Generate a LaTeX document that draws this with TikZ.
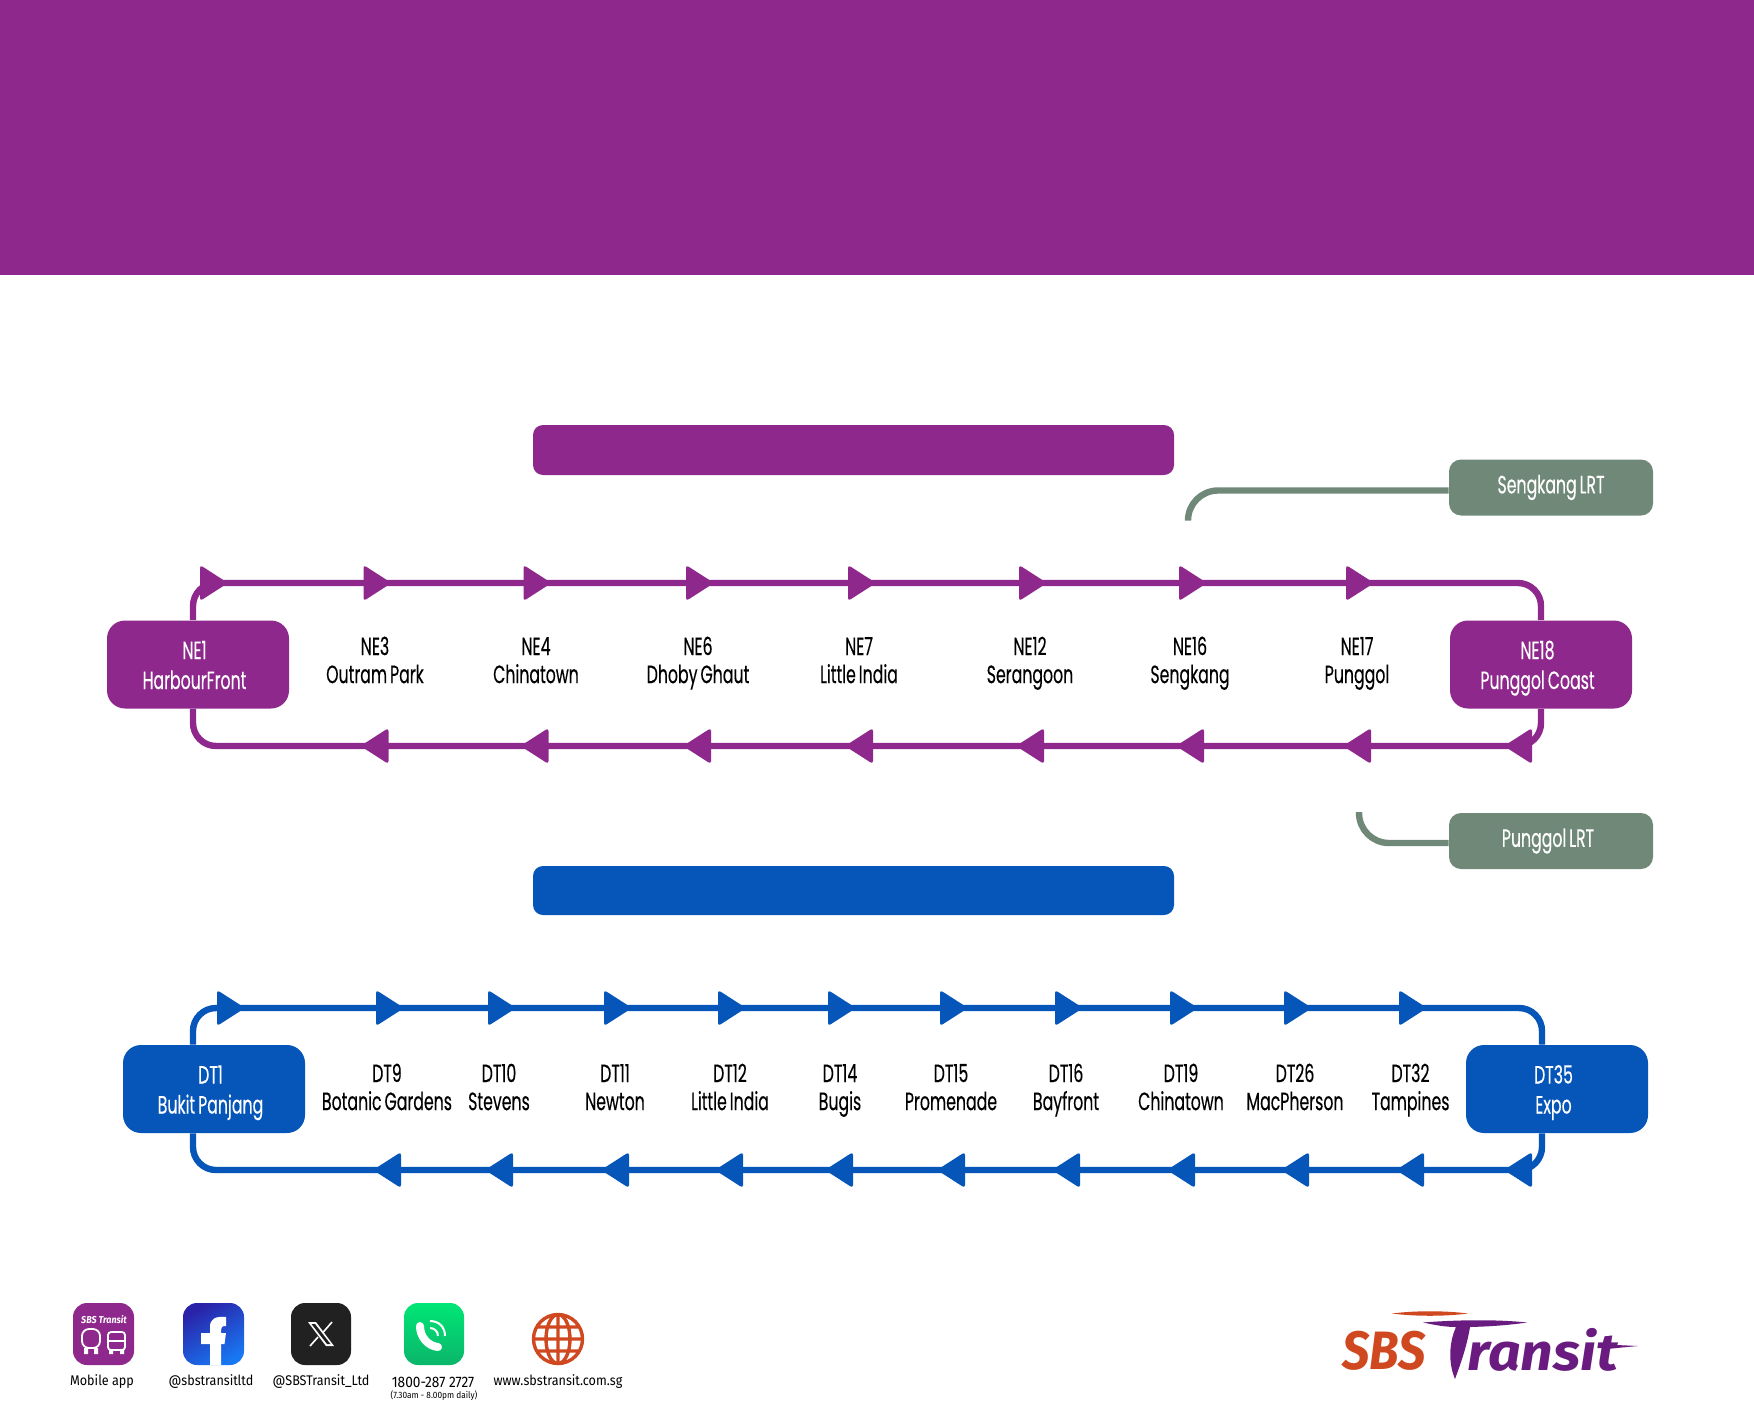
\documentclass[tikz,border=0pt]{standalone}
\usepackage{fontspec}
\usetikzlibrary{calc}
\newfontfamily\stopfont[FakeStretch=0.63,FakeBold=0.25,WordSpace=0.7]{Poppins}
\newfontfamily\footfont[FakeStretch=0.9]{Fira Sans}
\newfontfamily\logofont[FakeStretch=0.9]{Fira Sans}
\newfontfamily\logowide[FakeStretch=1.1]{Fira Sans}
\definecolor{nePurple}{RGB}{143,40,140}
\definecolor{dtBlue}{RGB}{5,86,184}
\definecolor{lrtGrey}{RGB}{111,136,119}
\definecolor{logoOrange}{RGB}{208,72,32}
\definecolor{logoPurple}{RGB}{106,27,127}
\definecolor{fbLight}{RGB}{24,119,242}
\definecolor{fbDark}{RGB}{42,34,168}
\definecolor{callLight}{RGB}{0,230,118}
\definecolor{callDark}{RGB}{11,181,106}
\newcommand\boxlines[2]{\hspace*{-3.5pt}#1\rule{0pt}{14pt}\\\hspace*{-3.5pt}#2\strut}
\def\neTop{583}
\def\neBot{746}
\def\dtTop{1008}
\def\dtBot{1170}
\def\tipW{28}
\def\tipH{18}

\begin{document}
\begin{tikzpicture}[
    x=0.5pt,y=-0.5pt,
    stopbox/.style={
      rounded corners=9pt,minimum width=91pt,minimum height=44pt,
      text width=91pt,inner sep=0pt,align=flush center,text=white,
      font=\stopfont\fontsize{12.5}{15}\selectfont
    },
    stoplabel/.style={
      inner sep=0pt,align=center,
      font=\stopfont\fontsize{12.5}{14}\selectfont
    },
    lrtbox/.style={
      fill=lrtGrey,rounded corners=6pt,minimum width=102pt,minimum height=28pt,
      inner sep=0pt,text=white,font=\stopfont\fontsize{12.5}{15}\selectfont
    },
    looproute/.style={line width=3.2pt,rounded corners=11.5pt},
    lrtroute/.style={lrtGrey,line width=3.2pt,rounded corners=15pt},
    arrowmark/.style={rounded corners=1.5pt},
    footlabel/.style={inner sep=0pt,font=\footfont\fontsize{7}{8}\selectfont},
    iconbox/.style={rounded corners=7pt}
  ]
    \useasboundingbox (0,0) rectangle (1754,1418);
    \fill[nePurple] (0,0) rectangle (1754,275);
    \fill[nePurple,rounded corners=5pt] (533,425) rectangle (1174,475);
    \fill[dtBlue,rounded corners=5pt] (533,866) rectangle (1174,915);

    % North East line
    \node[stopbox,fill=nePurple] (NE1) at (198,664.5) {\boxlines{NE1}{HarbourFront}};
    \node[stopbox,fill=nePurple] (NE18) at (1541,664.5) {\boxlines{NE18}{Punggol Coast}};
    \foreach \x/\code/\stn in {375/NE3/Outram Park,536/NE4/Chinatown,698/NE6/Dhoby Ghaut,
        859/NE7/Little India,1030/NE12/Serangoon,1190/NE16/Sengkang,1357/NE17/Punggol}{
      \node[stoplabel] (\code) at (\x,663.5) {\code\strut\\\stn\strut};
    }
    \coordinate (neUpper) at (0,\neTop);
    \coordinate (neLower) at (0,\neBot);
    \draw[looproute,nePurple] ($(NE1.north)+(-5,0)$) |- (neUpper -| NE18.north) -- (NE18.north);
    \draw[looproute,nePurple] (NE18.south) |- ($(neLower -| NE1.south)+(-5,0)$) -- ($(NE1.south)+(-5,0)$);
    \foreach \x in {200,363.5,523.5,686,848,1019,1179,1346}{
      \fill[nePurple,arrowmark] (\x,\neTop-\tipH) -- (\x+\tipW,\neTop) -- (\x,\neTop+\tipH) -- cycle;
    }
    \foreach \x in {363.5,523.5,686,848,1019,1179,1346,1507}{
      \fill[nePurple,arrowmark] (\x+25,\neBot-\tipH) -- (\x+25-\tipW,\neBot) -- (\x+25,\neBot+\tipH) -- cycle;
    }

    % LRT links
    \node[lrtbox] (SengkangLRT) at (1551,487.5) {\raisebox{-1.2pt}{Sengkang LRT}};
    \node[lrtbox] (PunggolLRT) at (1551,841) {\hspace*{-3pt}\raisebox{-1.2pt}{Punggol LRT}};
    \coordinate (SengkangEnd) at (1188,520);
    \coordinate (PunggolEnd) at (1359,812);
    \draw[lrtroute] ($(SengkangLRT.west)+(0,3)$) -| (SengkangEnd);
    \draw[lrtroute] ($(PunggolLRT.west)+(0,2)$) -| (PunggolEnd);

    % Downtown line
    \node[stopbox,fill=dtBlue] (DT1) at (214,1089) {\boxlines{DT1}{Bukit Panjang}};
    \node[stopbox,fill=dtBlue] (DT35) at (1557,1089) {\boxlines{DT35}{Expo}};
    \foreach \x/\code/\stn in {387/DT9/Botanic Gardens,499/DT10/Stevens,615/DT11/Newton,
        730/DT12/Little India,840/DT14/Bugis,951/DT15/Promenade,1066/DT16/Bayfront,
        1181/DT19/Chinatown,1295/DT26/MacPherson,1410.5/DT32/Tampines}{
      \node[stoplabel] (\code) at (\x,1090.5) {\code\strut\\\stn\strut};
    }
    \coordinate (dtUpper) at (0,\dtTop);
    \coordinate (dtLower) at (0,\dtBot);
    \draw[looproute,dtBlue] ($(DT1.north)+(-21,0)$) |- ($(dtUpper -| DT35.north)+(-15,0)$) -- ($(DT35.north)+(-15,0)$);
    \draw[looproute,dtBlue] ($(DT35.south)+(-15,0)$) |- ($(dtLower -| DT1.south)+(-21,0)$) -- ($(DT1.south)+(-21,0)$);
    \foreach \x in {217,376,488,604,718,828,940,1055,1170,1284,1399}{
      \fill[dtBlue,arrowmark] (\x,\dtTop-\tipH) -- (\x+\tipW,\dtTop) -- (\x,\dtTop+\tipH) -- cycle;
    }
    \foreach \x in {376,488,604,718,828,940,1055,1170,1284,1399,1507}{
      \fill[dtBlue,arrowmark] (\x+25,\dtBot-\tipH) -- (\x+25-\tipW,\dtBot) -- (\x+25,\dtBot+\tipH) -- cycle;
    }

    % footer icons
    \fill[nePurple,iconbox] (73,1303) rectangle (134,1365);
    \node[inner sep=0pt,white,font=\logofont\bfseries\itshape\fontsize{5}{5}\selectfont] (appName) at (104,1320) {SBS Transit};
    \draw[white,line width=0.9pt,rounded corners=3.5pt] (82,1348) -- (82,1329) -- (100,1329) -- (100,1348) -- cycle;
    \draw[white,line width=0.9pt,rounded corners=1.5pt] (108,1350) -- (108,1332) -- (125,1332) -- (125,1350) -- cycle;
    \draw[white,line width=0.7pt] (108,1341) -- (125,1341);
    \fill[white] (84,1348) rectangle (88,1354) (94,1348) rectangle (98,1354) (109,1350) rectangle (113,1354) (120,1350) rectangle (124,1354);

    \shade[iconbox,left color=fbDark,right color=fbLight,shading angle=30] (183,1303) rectangle (244,1365);
    \fill[white] (210,1365) -- (210,1344) -- (201,1344) -- (201,1333) -- (210,1333) -- (210,1327)
      .. controls (210,1319) and (215,1316) .. (226,1317) -- (226,1326) .. controls (222,1326) and (221,1327) .. (221,1330)
      -- (221,1333) -- (226,1333) -- (224.5,1344) -- (221,1344) -- (221,1365) -- cycle;

    \fill[black!87,iconbox] (291,1303) rectangle (351,1365);
    \fill[white] (308,1322) -- (316,1322) -- (334,1346) -- (326,1346) -- cycle;
    \fill[black!87] (311.5,1324) -- (315,1324) -- (330.5,1344) -- (327,1344) -- cycle;
    \draw[white,line width=0.8pt] (332,1322) -- (322.5,1333) (318,1337) -- (310,1346);

    \shade[iconbox,top color=callLight,bottom color=callDark] (404,1303) rectangle (464,1365);
    \draw[white,line width=4pt,line cap=round] (420,1326) .. controls (420,1337) and (428,1346) .. (438,1347);
    \draw[white,line width=1pt] (430,1321) .. controls (439,1321) and (445,1327) .. (445,1336);
    \draw[white,line width=1pt] (430,1328) .. controls (434,1328) and (438,1331) .. (438,1336);

    \draw[logoOrange,line width=1.7pt] (558,1339) circle (24.5)
      (558,1339) ellipse (12 and 24.5)
      (558,1314.5) -- (558,1363.5)
      (534,1339) -- (582,1339)
      (538,1327) -- (578,1327)
      (538,1351) -- (578,1351);

    \node[footlabel] (appLabel) at (102,1382) {Mobile app};
    \node[footlabel] (fbLabel) at (211,1382) {@sbstransitltd};
    \node[footlabel] (xLabel) at (321,1382) {@SBSTransit\_Ltd};
    \node[footlabel,font=\footfont\fontsize{7.6}{8}\selectfont] (phoneLabel) at (433,1382) {1800-287 2727};
    \node[inner sep=0pt,font=\footfont\fontsize{4.6}{5}\selectfont] (hoursLabel) at (434,1395.5) {(7.30am - 8.00pm daily)};
    \node[footlabel] (webLabel) at (558,1382) {www.sbstransit.com.sg};

    % logo
    \fill[logoOrange] (1392,1313.5) .. controls (1415,1310.5) and (1445,1310.5) .. (1468,1313.5)
      .. controls (1445,1316.5) and (1415,1316.5) .. cycle;
    \node[anchor=base west,inner sep=0pt,logoOrange,font=\logofont\bfseries\itshape\fontsize{27}{30}\selectfont] (logoSBS) at (1342,1369) {SBS};
    \fill[logoPurple] (1423,1322.5) .. controls (1460,1319.5) and (1500,1319.5) .. (1527,1322.5)
      .. controls (1510,1325) and (1490,1326.5) .. (1470,1327) .. controls (1467,1345) and (1462,1360) .. (1455,1379)
      .. controls (1449,1365) and (1448,1345) .. (1456,1327) .. controls (1445,1327) and (1435,1325) .. cycle;
    \node[anchor=base west,inner sep=0pt,logoPurple,font=\logowide\bfseries\itshape\fontsize{26}{30}\selectfont] (logoRansit) at (1467,1370) {ransit};
    \fill[logoPurple] (1606,1344.5) -- (1638,1346) -- (1606,1349) -- cycle;
  \end{tikzpicture}
\end{document}
